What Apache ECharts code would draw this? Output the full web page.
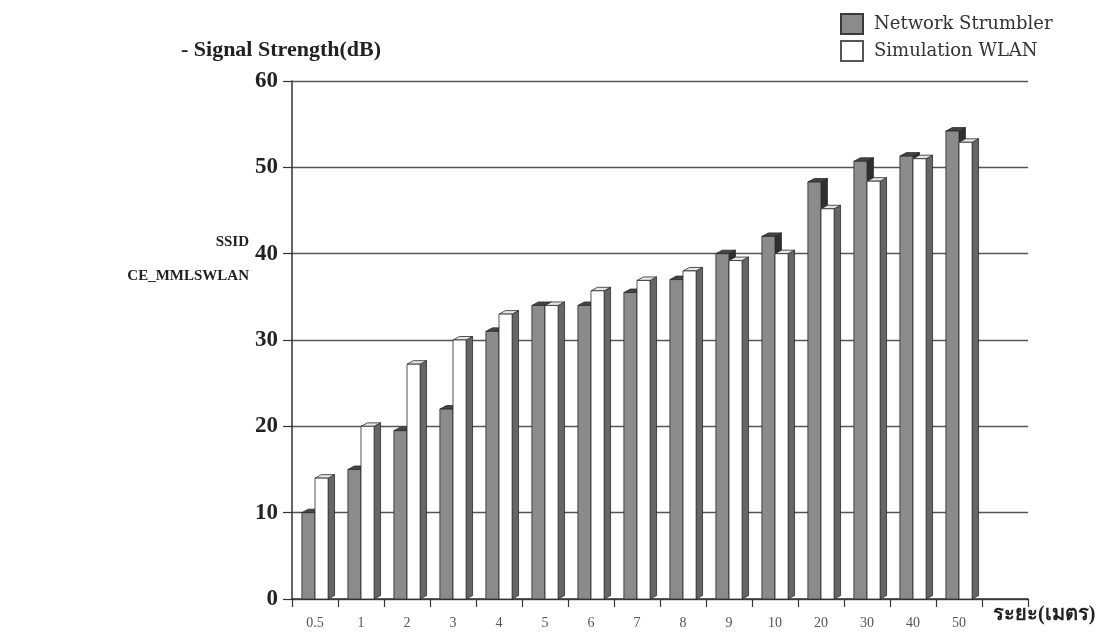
<!DOCTYPE html>
<html>
<head>
<meta charset="utf-8">
<style>
  html, body { margin: 0; padding: 0; background: #ffffff; }
  #chart { width: 1113px; height: 636px; }
</style>
<script src="https://cdn.jsdelivr.net/npm/echarts@6/dist/echarts.min.js"></script>
</head>
<body>
<div id="chart"></div>
<script>
// Distance (metres) at which signal strength was recorded
const categories = ['0.5', '1', '2', '3', '4', '5', '6', '7', '8', '9', '10', '20', '30', '40', '50'];
// Measured with Network Stumbler (dB)
const networkStrumbler = [10, 15, 19.5, 22, 31, 34, 34, 35.5, 37, 40, 42, 48.3, 50.7, 51.3, 54.2];
// Simulated WLAN (dB)
const simulationWlan = [14, 20, 27.2, 30, 33, 34, 35.7, 36.9, 38, 39.2, 40, 45.2, 48.4, 51, 52.9];
// Y-axis ticks
const yTicks = { min: 0, max: 60, step: 10 };

const seriesNames = ['Network Strumbler', 'Simulation WLAN'];

// Face colours for the pseudo-3D columns: [front, side, top]
const faces = [
  ['#8b8b8b', '#2f2f2f', '#454545'],
  ['#ffffff', '#666666', '#e6e6e6']
];

// Category axis gets one empty trailing slot so the floor runs past the last pair
const axisCategories = categories.concat(['']);

function column3D(params, api) {
  const s = params.seriesIndex;
  const idx = api.value(0);
  const val = api.value(1);
  const top = api.coord([idx, val]);
  const base = api.coord([idx, 0]);
  const w = api.size([1, 0])[0];
  const fw = w * 0.285;
  const d = w * 0.14;
  const rise = 3.5;
  const x0 = s === 0 ? top[0] - fw : top[0];
  const x1 = x0 + fw;
  const yt = top[1];
  const yb = base[1];
  const c = faces[s];
  const stroke = { stroke: '#2a2a2a', lineWidth: 0.8 };
  return {
    type: 'group',
    children: [
      {
        type: 'polygon',
        shape: { points: [[x1, yt], [x1 + d, yt - rise], [x1 + d, yb - rise], [x1, yb]] },
        style: Object.assign({ fill: c[1] }, stroke)
      },
      {
        type: 'polygon',
        shape: { points: [[x0, yt], [x0 + d, yt - rise], [x1 + d, yt - rise], [x1, yt]] },
        style: Object.assign({ fill: c[2] }, stroke)
      },
      {
        type: 'rect',
        shape: { x: x0, y: yt, width: fw, height: yb - yt },
        style: Object.assign({ fill: c[0] }, stroke)
      }
    ]
  };
}

const chart = echarts.init(document.getElementById('chart'), null, { renderer: 'canvas' });

chart.setOption({
  backgroundColor: '#ffffff',
  animation: false,
  grid: { left: 292, right: 85, top: 81, bottom: 37, containLabel: false },
  legend: {
    orient: 'vertical',
    left: 835,
    top: 8,
    itemWidth: 22,
    itemHeight: 20,
    itemGap: 5,
    icon: 'rect',
    data: seriesNames,
    textStyle: {
      fontFamily: 'DejaVu Serif',
      fontSize: 18,
      color: '#333333',
      padding: [0, 0, 0, 6]
    }
  },
  xAxis: {
    type: 'category',
    data: axisCategories,
    boundaryGap: true,
    name: 'ระยะ(เมตร)',
    nameLocation: 'end',
    nameGap: -35,
    nameTextStyle: {
      fontFamily: 'Liberation Serif',
      fontWeight: 'bold',
      fontSize: 20,
      color: '#222222',
      align: 'left',
      verticalAlign: 'top',
      padding: [6, 0, 0, 0]
    },
    axisLine: { show: true, lineStyle: { color: '#333333', width: 1.5 } },
    axisTick: { show: true, interval: 0, length: 8, lineStyle: { color: '#333333', width: 1.2 } },
    axisLabel: {
      interval: 0,
      margin: 17,
      fontFamily: 'Liberation Serif',
      fontSize: 14,
      color: '#555555'
    },
    splitLine: { show: false }
  },
  yAxis: {
    type: 'value',
    min: yTicks.min,
    max: yTicks.max,
    interval: yTicks.step,
    name: '- Signal Strength(dB)',
    nameLocation: 'end',
    nameGap: 20,
    nameTextStyle: {
      fontFamily: 'Liberation Serif',
      fontWeight: 'bold',
      fontSize: 22,
      color: '#222222',
      align: 'center',
      padding: [0, 22, 0, 0]
    },
    axisLine: { show: true, lineStyle: { color: '#333333', width: 1.5 } },
    axisTick: { show: true, length: 9, lineStyle: { color: '#333333', width: 1.2 } },
    axisLabel: {
      margin: 14,
      fontFamily: 'Liberation Serif',
      fontWeight: 'bold',
      fontSize: 23,
      color: '#222222'
    },
    splitLine: { show: true, lineStyle: { color: '#555555', width: 1.3 } }
  },
  graphic: [
    {
      type: 'text',
      x: 249,
      y: 242,
      style: {
        text: 'SSID',
        align: 'right',
        verticalAlign: 'middle',
        fontFamily: 'Liberation Serif',
        fontWeight: 'bold',
        fontSize: 15,
        fill: '#222222'
      }
    },
    {
      type: 'text',
      x: 249,
      y: 276,
      style: {
        text: 'CE_MMLSWLAN',
        align: 'right',
        verticalAlign: 'middle',
        fontFamily: 'Liberation Serif',
        fontWeight: 'bold',
        fontSize: 15,
        fill: '#222222'
      }
    }
  ],
  series: [
    {
      name: seriesNames[0],
      type: 'custom',
      z: 2,
      renderItem: column3D,
      itemStyle: { color: '#8b8b8b', borderColor: '#3a3a3a', borderWidth: 1 },
      encode: { x: 0, y: 1 },
      data: networkStrumbler.map((v, i) => [i, v])
    },
    {
      name: seriesNames[1],
      type: 'custom',
      z: 3,
      renderItem: column3D,
      itemStyle: { color: '#ffffff', borderColor: '#555555', borderWidth: 1 },
      encode: { x: 0, y: 1 },
      data: simulationWlan.map((v, i) => [i, v])
    }
  ]
});
</script>
</body>
</html>
